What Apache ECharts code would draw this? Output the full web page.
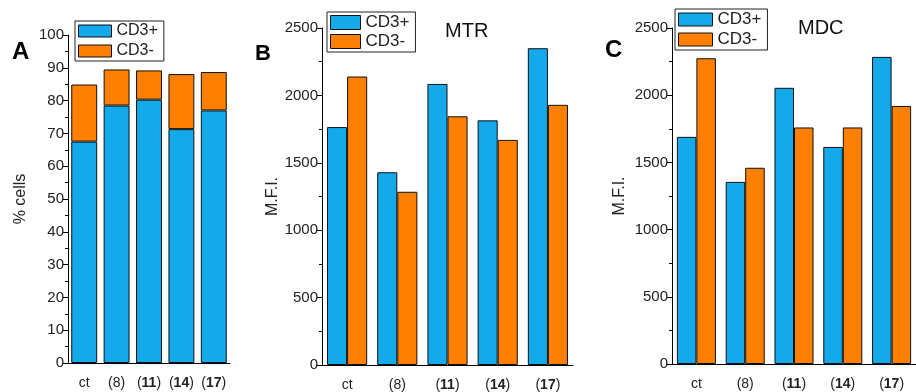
<!DOCTYPE html>
<html><head><meta charset="utf-8">
<script src="https://cdn.jsdelivr.net/npm/echarts@6/dist/echarts.min.js"></script>
<style>html,body{margin:0;padding:0;background:#fff}#c{width:916px;height:392px}</style>
</head><body><div id="c"></div>
<script>
var categories = ['ct', '(8)', '(11)', '(14)', '(17)'];
var boldLabel = [false, false, true, true, true];
var seriesNames = ['CD3+', 'CD3-'];
var A_cd3pos = [67.5, 78.5, 80.3, 71.3, 77.0];
var A_cd3neg = [17.4, 11.0, 8.9, 16.8, 11.7];
var B_cd3pos = [1765, 1430, 2085, 1815, 2350];
var B_cd3neg = [2140, 1285, 1845, 1670, 1930];
var C_cd3pos = [1690, 1355, 2055, 1615, 2285];
var C_cd3neg = [2275, 1460, 1760, 1760, 1920];
var panelLetters = ['A', 'B', 'C'];
var panelTitles = ['MTR', 'MDC'];
var yNames = ['% cells', 'M.F.I.', 'M.F.I.'];

var FONT = 'Liberation Sans, Arial, sans-serif';
var BLUE = '#13a9ea', ORANGE = '#ff7f00';

var chart = echarts.init(document.getElementById('c'), null, {renderer: 'canvas'});

function xLabelFmt(v, i) {
  var idx = categories.indexOf(v);
  if (idx >= 0 && boldLabel[idx]) {
    return '{n|(}{b|' + v.replace(/[()]/g, '') + '}{n|)}';
  }
  return '{n|' + v + '}';
}
var rich = {
  n: {fontFamily: FONT, fontSize: 14, color: '#222'},
  b: {fontFamily: FONT, fontSize: 14, color: '#222', fontWeight: 'bold'}
};

var grids = [
  {left: 68, top: 35, width: 162, height: 328},
  {left: 322, top: 28, width: 251, height: 339},
  {left: 672, top: 28, width: 250, height: 336}
];

var xAxes = [], yAxes = [];
grids.forEach(function (g, i) {
  xAxes.push({
    type: 'category', gridIndex: i, data: categories,
    axisLine: {lineStyle: {color: '#000', width: 1}},
    axisTick: {alignWithLabel: true, inside: false, length: 5, lineStyle: {color: '#000'}},
    axisLabel: {formatter: xLabelFmt, rich: rich, margin: 13, interval: 0}
  });
  xAxes.push({
    type: 'category', gridIndex: i, data: categories, position: 'bottom',
    axisLine: {show: false},
    axisTick: {length: 3, lineStyle: {color: '#000'}},
    axisLabel: {show: false}
  });
  var isA = i === 0;
  yAxes.push({
    type: 'value', gridIndex: i, min: 0, max: isA ? 100 : 2500, interval: isA ? 10 : 500,
    name: yNames[i], nameLocation: 'middle', nameGap: [39, 31, 44][i], nameRotate: 90,
    nameTextStyle: {fontFamily: FONT, fontSize: 16, color: '#222'},
    axisLine: {show: true, lineStyle: {color: '#000', width: 1}},
    axisTick: {show: true, length: 5, lineStyle: {color: '#000'}},
    minorTick: {show: true, splitNumber: 2, length: 3, lineStyle: {color: '#000'}},
    splitLine: {show: false},
    axisLabel: {fontFamily: FONT, fontSize: 15, color: '#222', margin: 4,
      formatter: function (v) { return String(v); }}
  });
});

var itemStyleBase = {borderColor: '#111', borderWidth: 1};
var series = [
  {name: seriesNames[0], type: 'bar', xAxisIndex: 0, yAxisIndex: 0, stack: 'A', data: A_cd3pos,
   barCategoryGap: '20%', itemStyle: Object.assign({color: BLUE}, itemStyleBase)},
  {name: seriesNames[1], type: 'bar', xAxisIndex: 0, yAxisIndex: 0, stack: 'A', data: A_cd3neg,
   barCategoryGap: '20%', itemStyle: Object.assign({color: ORANGE}, itemStyleBase)},
  {name: seriesNames[0], type: 'bar', xAxisIndex: 2, yAxisIndex: 1, data: B_cd3pos,
   barGap: '0%', barCategoryGap: '20%', itemStyle: Object.assign({color: BLUE}, itemStyleBase)},
  {name: seriesNames[1], type: 'bar', xAxisIndex: 2, yAxisIndex: 1, data: B_cd3neg,
   barGap: '0%', barCategoryGap: '20%', itemStyle: Object.assign({color: ORANGE}, itemStyleBase)},
  {name: seriesNames[0], type: 'bar', xAxisIndex: 4, yAxisIndex: 2, data: C_cd3pos,
   barGap: '0%', barCategoryGap: '20%', itemStyle: Object.assign({color: BLUE}, itemStyleBase)},
  {name: seriesNames[1], type: 'bar', xAxisIndex: 4, yAxisIndex: 2, data: C_cd3neg,
   barGap: '0%', barCategoryGap: '20%', itemStyle: Object.assign({color: ORANGE}, itemStyleBase)}
];

function mkLegend(left, top, iw, ih, gap, fs) {
  return {
    data: seriesNames, orient: 'vertical', left: left, top: top,
    backgroundColor: '#fff', borderColor: '#222', borderWidth: 1,
    padding: [2, 6, 2, 3], itemWidth: iw, itemHeight: ih, itemGap: gap,
    icon: 'rect', selectedMode: false,
    itemStyle: {borderColor: '#111', borderWidth: 1},
    textStyle: {fontFamily: FONT, fontSize: fs, color: '#222', padding: 0}
  };
}

var titles = [
  {text: panelLetters[0], left: 12, top: 40, padding: 0, textStyle: {fontFamily: FONT, fontSize: 24, fontWeight: 'bold', color: '#000'}},
  {text: panelLetters[1], left: 255, top: 43, padding: 0, textStyle: {fontFamily: FONT, fontSize: 22, fontWeight: 'bold', color: '#000'}},
  {text: panelLetters[2], left: 605, top: 38, padding: 0, textStyle: {fontFamily: FONT, fontSize: 24, fontWeight: 'bold', color: '#000'}},
  {text: panelTitles[0], left: 445, top: 21, padding: 0, textStyle: {fontFamily: FONT, fontSize: 20, fontWeight: 'normal', color: '#111'}},
  {text: panelTitles[1], left: 798, top: 18, padding: 0, textStyle: {fontFamily: FONT, fontSize: 20, fontWeight: 'normal', color: '#111'}}
];

chart.setOption({
  animation: false,
  backgroundColor: '#fff',
  title: titles,
  legend: [mkLegend(75, 21, 33, 12, 4, 16), mkLegend(327, 12, 30, 14, 2, 17), mkLegend(675, 9, 34, 13, 3, 17)],
  grid: grids,
  xAxis: xAxes,
  yAxis: yAxes,
  series: series
});
</script></body></html>
